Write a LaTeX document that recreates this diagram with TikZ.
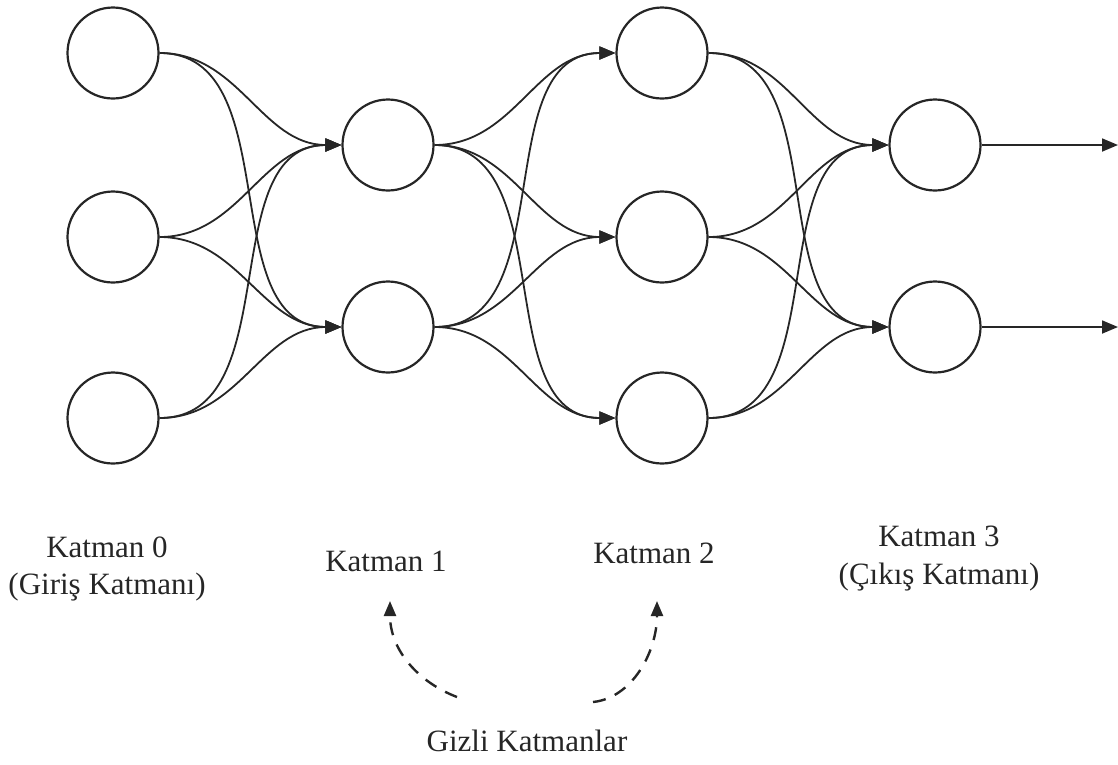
\documentclass[tikz,border=0pt]{standalone}
\usepackage{fontspec}
\setmainfont{Liberation Serif}
\usetikzlibrary{arrows.meta}
\begin{document}
\begin{tikzpicture}[x=1pt,y=-1pt,
  neuron/.style={circle,draw=black!85,line width=2.2pt,minimum size=91pt,inner sep=0pt},
  edge/.style={draw=black!85,line width=1.8pt,-{Triangle[length=16pt,width=13pt]}},
  hidden/.style={draw=black!85,line width=2.4pt,dash pattern=on 13pt off 10pt,-{Triangle[length=15pt,width=12pt]}},
  lbl/.style={font=\fontsize{31}{38}\selectfont,text=black!85,inner sep=0pt,anchor=base}]
\useasboundingbox (0,0) rectangle (1118,764);
% layer 0 (input)
\node[neuron] (a1) at (113,53) {};
\node[neuron] (a2) at (113,237) {};
\node[neuron] (a3) at (113,418) {};
% layer 1
\node[neuron] (b1) at (388,145) {};
\node[neuron] (b2) at (388,327) {};
% layer 2
\node[neuron] (c1) at (662,53) {};
\node[neuron] (c2) at (662,237) {};
\node[neuron] (c3) at (662,418) {};
% layer 3 (output)
\node[neuron] (d1) at (935,145) {};
\node[neuron] (d2) at (935,327) {};
\coordinate (o1) at (1118,145);
\coordinate (o2) at (1118,327);
% fully connected links
\foreach \s in {a1,a2,a3}
  \foreach \t in {b1,b2}
    \draw[edge] (\s.east) to[out=0,in=180] (\t.west);
\foreach \s in {b1,b2}
  \foreach \t in {c1,c2,c3}
    \draw[edge] (\s.east) to[out=0,in=180] (\t.west);
\foreach \s in {c1,c2,c3}
  \foreach \t in {d1,d2}
    \draw[edge] (\s.east) to[out=0,in=180] (\t.west);
\draw[edge] (d1.east) -- (o1);
\draw[edge] (d2.east) -- (o2);
% layer captions
\node[lbl] (l0) at (107,557) {Katman 0};
\node[lbl] (l0b) at (107,594) {(Giriş Katmanı)};
\node[lbl] (l1) at (386,571) {Katman 1};
\node[lbl] (l2) at (654,563) {Katman 2};
\node[lbl] (l3) at (939,546) {Katman 3};
\node[lbl] (l3b) at (939,584) {(Çıkış Katmanı)};
\node[lbl] (hid) at (527,751) {Gizli Katmanlar};
% hidden-layer pointers
\coordinate (h1) at (457,697);
\coordinate (h2) at (593,702);
\coordinate (t1) at (390,601);
\coordinate (t2) at (657,601);
\draw[hidden] (h1) .. controls (418,682) and (390,650) .. (t1);
\draw[hidden] (h2) .. controls (632,698) and (657,652) .. (t2);
\end{tikzpicture}
\end{document}
